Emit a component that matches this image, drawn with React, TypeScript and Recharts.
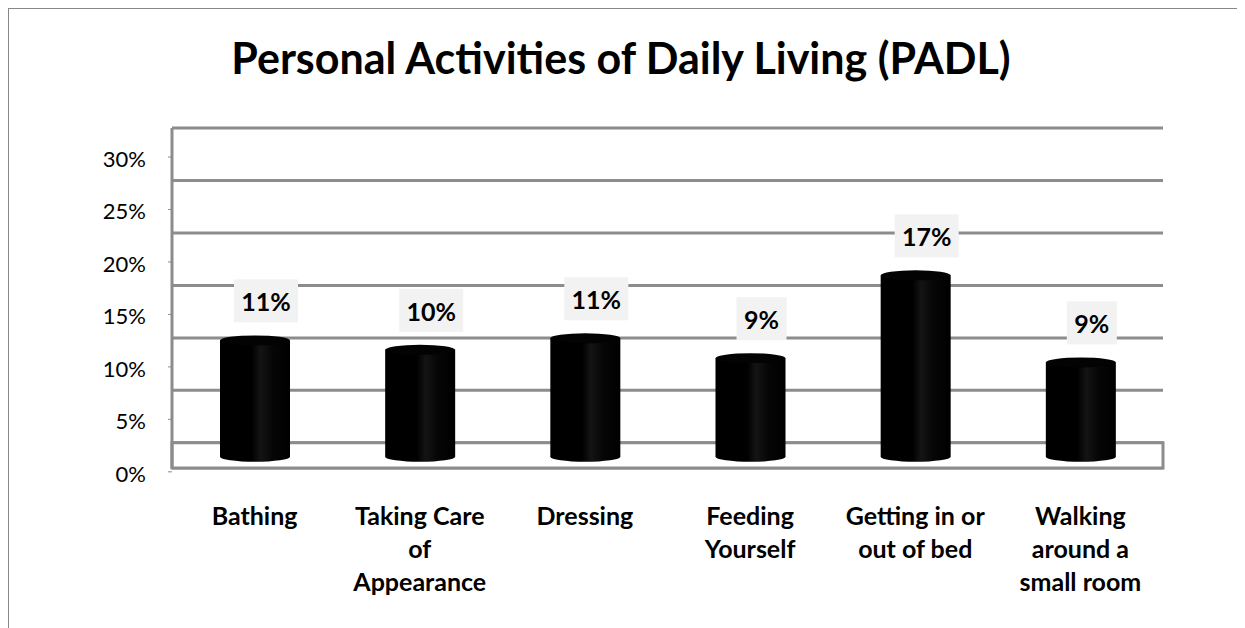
import { BarChart, Bar, XAxis, YAxis, CartesianGrid, LabelList, ReferenceArea } from "recharts";

const categories = [
  "Bathing",
  "Taking Care of Appearance",
  "Dressing",
  "Feeding Yourself",
  "Getting in or out of bed",
  "Walking around a small room",
];

// how the category names wrap under the axis
const categoryLines = [
  ["Bathing"],
  ["Taking Care", "of", "Appearance"],
  ["Dressing"],
  ["Feeding", "Yourself"],
  ["Getting in or", "out of bed"],
  ["Walking", "around a", "small room"],
];

const shares = [0.11, 0.101, 0.112, 0.093, 0.172, 0.089];

const yTicks = [0, 0.05, 0.1, 0.15, 0.2, 0.25, 0.3];

// depth of the 3D floor below the 0% line, in axis units
const floorDepth = -0.024;

const data = categories.map((category, i) => ({ category, share: shares[i] }));

const FONT = "Lato, 'Open Sans', sans-serif";
const GRID = "#8c8c8c";

const pct = (v: number) => `${Math.round(v * 100)}%`;

function YTick(props: any) {
  const { x, y, payload } = props;
  return (
    <g>
      <line x1={x - 4} x2={x} y1={y + 29} y2={y + 29} stroke={GRID} strokeWidth={1} />
      <text x={x - 26} y={y + 39} textAnchor="end" fontFamily={FONT} fontSize={22} fill="#000">
        {pct(payload.value)}
      </text>
    </g>
  );
}

function XTick(props: any) {
  const { x, y, payload } = props;
  const lines = categoryLines[categories.indexOf(payload.value)] ?? [payload.value];
  return (
    <text x={x} y={y + 57} textAnchor="middle" fontFamily={FONT} fontSize={25} fontWeight="bold" fill="#000">
      {lines.map((line, i) => (
        <tspan key={i} x={x} dy={i === 0 ? 0 : 33}>
          {line}
        </tspan>
      ))}
    </text>
  );
}

function Cylinder(props: any) {
  const { x, y, width, height } = props;
  const top = y + 8;
  const bottom = y + height + 19;
  const rx = width / 2;
  const ry = 5;
  const cx = x + rx;
  return (
    <g>
      <ellipse cx={cx} cy={bottom - ry} rx={rx} ry={ry} fill="url(#cyl)" />
      <rect x={x} y={top + ry} width={width} height={bottom - top - 2 * ry} fill="url(#cyl)" />
      <ellipse cx={cx} cy={top + ry} rx={rx} ry={ry} fill="#030303" />
    </g>
  );
}

function ValueLabel(props: any) {
  const { x, y, width, value } = props;
  const text = pct(value);
  const boxW = 22 + text.length * 14;
  const cx = x + width / 2 + 11;
  const boxBottom = y + 8 - 13;
  return (
    <g>
      <rect x={cx - boxW / 2} y={boxBottom - 43} width={boxW} height={43} fill="#f2f2f2" />
      <text x={cx} y={boxBottom - 11} textAnchor="middle" fontFamily={FONT} fontSize={25} fontWeight="bold" fill="#000">
        {text}
      </text>
    </g>
  );
}

export default function App() {
  return (
    <div
      style={{
        position: "relative",
        width: 1237,
        height: 620,
        boxSizing: "border-box",
        borderTop: "1px solid #888",
        borderLeft: "1px solid #888",
        background: "#fff",
      }}
    >
      <style>{"html, body { overflow: hidden; }"}</style>
      <div
        style={{
          position: "absolute",
          left: -6,
          top: 27,
          width: 1236,
          textAlign: "center",
          fontFamily: FONT,
          fontWeight: "bold",
          fontSize: 43,
          lineHeight: "43px",
          color: "#000",
        }}
      >
        Personal Activities of Daily Living (PADL)
      </div>
      <BarChart
        width={1236}
        height={619}
        data={data}
        margin={{ top: 119, right: 82, left: 0, bottom: 0 }}
        style={{ position: "absolute", left: 0, top: 0 }}
      >
        <defs>
          <linearGradient id="cyl" x1="0" y1="0" x2="1" y2="0">
            <stop offset="0%" stopColor="#000" />
            <stop offset="45%" stopColor="#000" />
            <stop offset="58%" stopColor="#141414" />
            <stop offset="75%" stopColor="#060606" />
            <stop offset="100%" stopColor="#000" />
          </linearGradient>
        </defs>
        <ReferenceArea y1={floorDepth} y2={0} fill="#fff" fillOpacity={1} stroke={GRID} strokeWidth={3} />
        <CartesianGrid vertical={false} stroke={GRID} strokeWidth={3} />
        <XAxis
          dataKey="category"
          height={160}
          axisLine={false}
          tickLine={false}
          tickSize={0}
          tickMargin={0}
          interval={0}
          tick={(p: any) => <XTick {...p} />}
        />
        <YAxis
          domain={[floorDepth, 0.3]}
          ticks={yTicks}
          width={163}
          axisLine={{ stroke: GRID, strokeWidth: 3 }}
          tickLine={false}
          tickSize={0}
          tickMargin={0}
          tick={(p: any) => <YTick {...p} />}
        />
        <Bar dataKey="share" barSize={70} shape={(p: any) => <Cylinder {...p} />} isAnimationActive={false}>
          <LabelList dataKey="share" content={(p: any) => <ValueLabel {...p} />} />
        </Bar>
      </BarChart>
    </div>
  );
}
